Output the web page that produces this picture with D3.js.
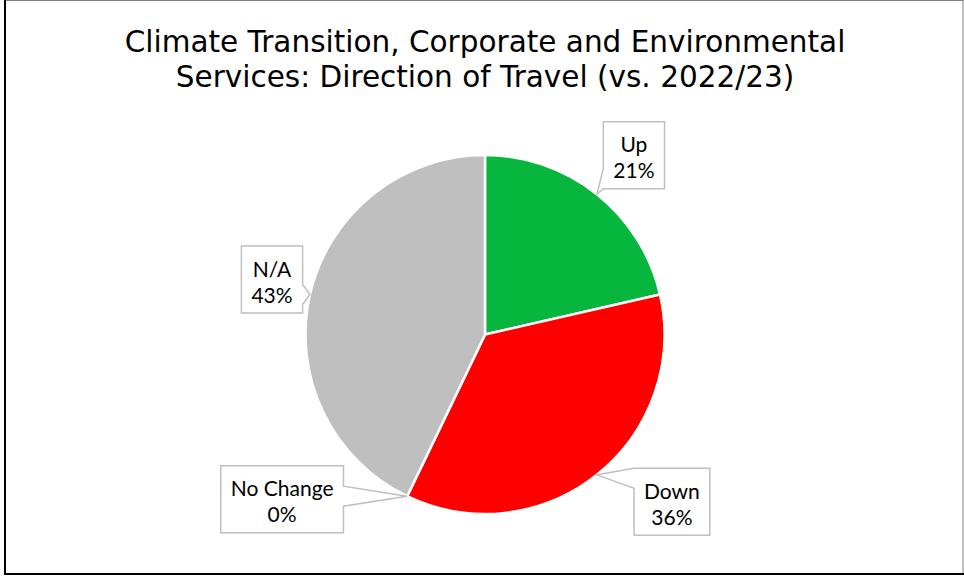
<!DOCTYPE html>
<html lang="en">
<head>
<meta charset="utf-8">
<title>Direction of Travel</title>
<script src="https://cdn.jsdelivr.net/npm/d3@7"></script>
<style>
  body { margin: 0; background: #fff; }
  .title { font-family: "DejaVu Sans", Verdana, sans-serif; font-size: 29.5px; fill: #000; }
  .lbl { font-family: Lato, "Liberation Sans", sans-serif; font-size: 21px; fill: #000; }
</style>
</head>
<body>
<div id="chart"></div>
<script>
// data
var categories = ["Up", "Down", "No Change", "N/A"];
var counts = [3, 5, 0, 6];
var colorList = ["#07B63C", "#FF0000", "#BFBFBF", "#BFBFBF"];
var titleLines = ["Climate Transition, Corporate and Environmental",
                  "Services: Direction of Travel (vs. 2022/23)"];
// label box offsets from the callout tip (box centre)
var labelOffsets = [[37, -39], [75, 27], [-125, 3], [-38, -15]];

var width = 964, height = 577;
var cx = 485, cy = 334.5, radius = 179.5;

var svg = d3.select("#chart").append("svg")
  .attr("width", width).attr("height", height);

// chart frame
svg.append("rect")
  .attr("x", 4.5).attr("y", 0.5)
  .attr("width", 958.5).attr("height", 573.5)
  .attr("fill", "#fff").attr("stroke", "#7f7f7f").attr("stroke-width", 1);
svg.append("path")
  .attr("d", "M5,0 L5,574 L964,574")
  .attr("fill", "none").attr("stroke", "#000").attr("stroke-width", 2);

// title
svg.append("text").attr("class", "title")
  .attr("text-anchor", "middle")
  .selectAll("tspan").data(titleLines).enter().append("tspan")
  .attr("x", cx)
  .attr("y", function(d, i) { return 51.5 + i * 35; })
  .text(function(d) { return d; });

var total = d3.sum(counts);
var pie = d3.pie().sort(null).value(function(d) { return d; });
var arcs = pie(counts);

var arc = d3.arc().innerRadius(0).outerRadius(radius);

var g = svg.append("g").attr("transform", "translate(" + cx + "," + cy + ")");

g.selectAll("path.slice")
  .data(arcs).enter().append("path")
  .attr("class", "slice")
  .attr("d", arc)
  .attr("fill", function(d, i) { return colorList[i]; })
  .attr("stroke", "#fff")
  .attr("stroke-width", 2.5)
  .attr("stroke-linejoin", "round");

// callout labels
var labels = svg.append("g");

arcs.forEach(function(d, i) {
  var mid = (d.startAngle + d.endAngle) / 2;
  var tip = [cx + Math.sin(mid) * radius, cy - Math.cos(mid) * radius];
  var pct = Math.round(counts[i] / total * 100) + "%";

  var lg = labels.append("g");
  var box = lg.append("path");
  var t1 = lg.append("text").attr("class", "lbl").attr("text-anchor", "middle").text(categories[i]);
  var t2 = lg.append("text").attr("class", "lbl").attr("text-anchor", "middle").text(pct);

  var w = Math.max(t1.node().getComputedTextLength(), t2.node().getComputedTextLength()) + 20;
  var h = 67;
  var bx = tip[0] + labelOffsets[i][0], by = tip[1] + labelOffsets[i][1];
  var x0 = bx - w / 2, x1 = bx + w / 2, y0 = by - h / 2, y1 = by + h / 2;

  t1.attr("x", bx).attr("y", by - 3);
  t2.attr("x", bx).attr("y", by + 23);

  // build callout outline, wedge on the side facing the tip
  var bw = 20, p;
  if (tip[0] < x0 || tip[0] > x1) {
    var yc = Math.max(y0 + bw / 2, Math.min(y1 - bw / 2, tip[1]));
    if (tip[0] < x0) {
      p = [[x0, y0], [x1, y0], [x1, y1], [x0, y1], [x0, yc + bw / 2], tip, [x0, yc - bw / 2]];
    } else {
      p = [[x0, y0], [x1, y0], [x1, yc - bw / 2], tip, [x1, yc + bw / 2], [x1, y1], [x0, y1]];
    }
  } else {
    var xc = Math.max(x0 + bw / 2, Math.min(x1 - bw / 2, tip[0]));
    if (tip[1] < y0) {
      p = [[x0, y0], [xc - bw / 2, y0], tip, [xc + bw / 2, y0], [x1, y0], [x1, y1], [x0, y1]];
    } else {
      p = [[x0, y0], [x1, y0], [x1, y1], [xc + bw / 2, y1], tip, [xc - bw / 2, y1], [x0, y1]];
    }
  }
  box.attr("d", "M" + p.join("L") + "Z")
    .attr("fill", "#fff")
    .attr("stroke", "#BFBFBF")
    .attr("stroke-width", 1.5);
});
</script>
</body>
</html>
